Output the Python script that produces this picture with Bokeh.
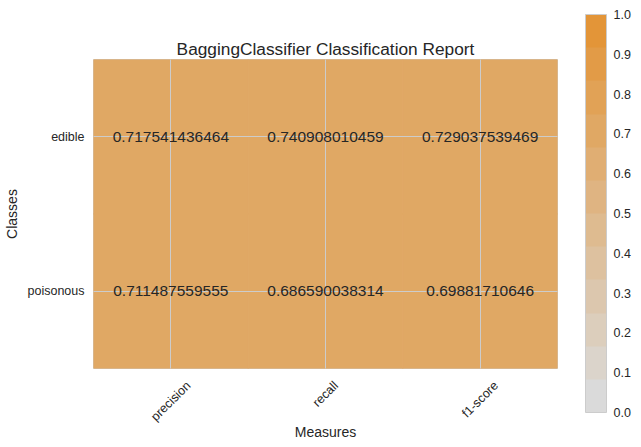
import numpy as np
from bokeh.plotting import figure
from bokeh.models import (ColumnDataSource, FixedTicker, PrintfTickFormatter,
                          LinearColorMapper, ColorBar)
from bokeh.transform import transform
from bokeh.core.properties import value
from bokeh.embed import file_html
from bokeh.resources import INLINE

measures = ["precision", "recall", "f1-score"]
classes = ["poisonous", "edible"]  # bottom to top
edible_scores = [0.717541436464, 0.740908010459, 0.729037539469]
poisonous_scores = [0.711487559555, 0.686590038314, 0.69881710646]
cbar_ticks = [0.0, 0.1, 0.2, 0.3, 0.4, 0.5, 0.6, 0.7, 0.8, 0.9, 1.0]
palette = ["#dadada", "#dbd4cb", "#dccebc", "#dcc7ae", "#ddc19f", "#debb90",
           "#dfb482", "#e0ae73", "#e0a864", "#e1a256", "#e29b47", "#e39538"]

FONT = "Liberation Sans"
TXT = "#262626"
FRAME_W = 464

xpos = {m: i + 0.5 for i, m in enumerate(measures)}
ypos = {c: i + 0.5 for i, c in enumerate(classes)}

xs, ys, vals = [], [], []
for cls, scores in (("edible", edible_scores), ("poisonous", poisonous_scores)):
    for m, s in zip(measures, scores):
        xs.append(xpos[m]); ys.append(ypos[cls]); vals.append(s)
src = ColumnDataSource(dict(x=xs, y=ys, v=vals, label=[str(v) for v in vals]))

mapper = LinearColorMapper(palette=palette, low=0, high=1)

p = figure(x_range=(0, len(measures)), y_range=(0, len(classes)),
           frame_width=FRAME_W, frame_height=309,
           output_backend="svg", toolbar_location=None,
           min_border_left=20, min_border_right=75, min_border_top=59, min_border_bottom=60,
           title="BaggingClassifier Classification Report")
p.rect(x="x", y="y", width=1, height=1, source=src,
       fill_color=transform("v", mapper), line_color=transform("v", mapper), line_width=1)
t = p.text(x="x", y="y", text="label", source=src, text_align="center",
           text_baseline="middle", text_font=value(FONT), text_font_size="15.5px",
           text_color=TXT)
t.level = "annotation"

p.title.align = "center"
p.title.text_font = FONT
p.title.text_font_size = "17.3px"
p.title.text_font_style = "normal"
p.title.text_color = TXT
p.title.standoff = 2

for ax in (p.xaxis[0], p.yaxis[0]):
    ax.axis_line_color = None
    ax.major_tick_line_color = None
    ax.minor_tick_line_color = None
    ax.major_tick_out = 0
    ax.major_tick_in = 0
    ax.minor_tick_out = 0
    ax.minor_tick_in = 0
    ax.major_label_text_font = FONT
    ax.major_label_text_font_size = "12.5px"
    ax.major_label_text_color = TXT
    ax.axis_label_text_font = FONT
    ax.axis_label_text_font_size = "14px"
    ax.axis_label_text_font_style = "normal"
    ax.axis_label_text_color = TXT

# rotated x tick labels: Bokeh right-aligns them at the tick, so shift each
# label anchor by half its rotated width to centre it on the cell like matplotlib
CW = {"p": .556, "r": .333, "e": .556, "c": .5, "i": .222, "s": .5, "o": .556,
      "n": .556, "a": .556, "l": .222, "f": .278, "1": .556, "-": .333}
fs = 12.5
px_per_unit = FRAME_W / len(measures)
label_pos = []
for m in measures:
    w = sum(CW.get(ch, .556) for ch in m) * fs
    label_pos.append(xpos[m] + 0.354 * w / px_per_unit)

p.xaxis.ticker = FixedTicker(ticks=label_pos)
p.xaxis.major_label_overrides = {lp: m for lp, m in zip(label_pos, measures)}
p.xaxis.major_label_orientation = np.pi / 4
p.xaxis.major_label_standoff = 15
p.xgrid.ticker = FixedTicker(ticks=[xpos[m] for m in measures])

p.yaxis.ticker = FixedTicker(ticks=[ypos[c] for c in classes])
p.yaxis.major_label_overrides = {ypos[c]: c for c in classes}
p.xaxis.axis_label = "Measures"
p.yaxis.axis_label = "Classes"
p.xaxis.axis_label_standoff = -8
p.yaxis.major_label_standoff = 9
p.yaxis.axis_label_standoff = 5

p.grid.grid_line_color = "#cccccc"
p.grid.grid_line_width = 1
p.grid.level = "guide"
p.outline_line_color = "#cccccc"
p.outline_line_width = 1
p.background_fill_color = "white"

cb = ColorBar(color_mapper=mapper, ticker=FixedTicker(ticks=cbar_ticks),
              formatter=PrintfTickFormatter(format="%.1f"),
              width=21, height=398, padding=0, margin=0, location=(492, -44),
              bar_line_color="#cccccc", major_tick_line_color=None,
              minor_tick_line_color=None, label_standoff=7,
              major_label_text_font=FONT, major_label_text_font_size="12.5px",
              major_label_text_color=TXT, background_fill_color=None,
              border_line_color=None)
p.add_layout(cb)

open("out.html", "w").write(file_html(p, INLINE))
